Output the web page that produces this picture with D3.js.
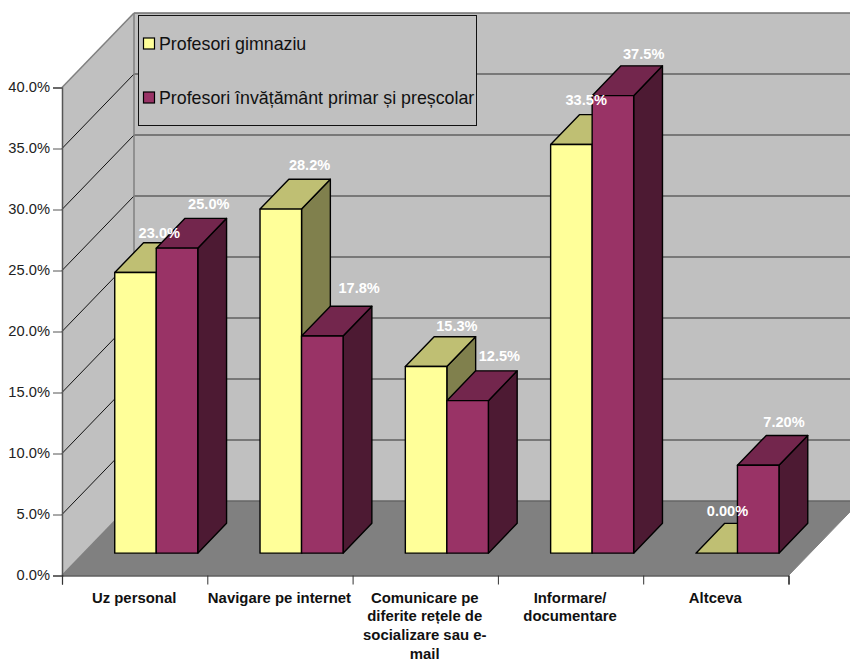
<!DOCTYPE html>
<html>
<head>
<meta charset="utf-8">
<script src="https://d3js.org/d3.v7.min.js"></script>
<style>
  body { margin: 0; background: #fff; }
  svg { display: block; }
  text { font-family: "Liberation Sans", Arial, sans-serif; }
</style>
</head>
<body>
<div id="my_dataviz"></div>
<script>

// chart data
var categories = ["Uz personal", "Navigare pe internet", "Comunicare pe\ndiferite rețele de\nsocializare sau e-\nmail", "Informare/\ndocumentare", "Altceva"]
var seriesNames = ["Profesori gimnaziu", "Profesori învățământ primar și preșcolar"]
var gimnaziu = [23.0, 28.2, 15.3, 33.5, 0]
var primar = [25.0, 17.8, 12.5, 37.5, 7.2]
var yTicks = [0, 5, 10, 15, 20, 25, 30, 35, 40]

// hand placed label nudges, [dx, dy] from the centre of each bar's back top edge
var gimnaziuNudge = [[-5, -10], [0, -14], [2, -11], [-14, -15], [-18, -12]]
var primarNudge = [[3, -14], [8, -18], [3, -15], [2, -12], [-3, -14]]

var width = 850, height = 661
var left = 62, right = 788.5, floorY = 575.5, topY = 87.5
var depthX = 72, depthY = -74.5

var colors = [
  { front: "#ffff99", top: "#bfbf73", side: "#80804d" },
  { front: "#993366", top: "#73264d", side: "#4d1a33" }
]

var svg = d3.select("#my_dataviz")
  .append("svg")
    .attr("width", width)
    .attr("height", height)

var y = d3.scaleLinear().domain([0, 40]).range([floorY, topY])
var x = d3.scaleBand().domain(d3.range(categories.length)).range([left, right])
// two bars side by side, with three quarters of a bar of room on each end
var xSeries = d3.scaleBand().domain([0, 1]).range([0, x.bandwidth()]).paddingInner(0).paddingOuter(0.75)

// screen position of a point at (px, value) and depth z, 0 = front and 1 = back wall
function pt(px, value, z) {
  return [px + z * depthX, y(value) + z * depthY]
}
function poly(points) {
  return points.map(function(p) { return p.join(",") }).join(" ")
}

// walls and floor
svg.append("polygon")
  .attr("points", poly([pt(left, 0, 1), pt(right, 0, 1), pt(right, 40, 1), pt(left, 40, 1)]))
  .attr("fill", "#c0c0c0")
svg.append("polygon")
  .attr("points", poly([pt(left, 0, 0), pt(left, 40, 0), pt(left, 40, 1), pt(left, 0, 1)]))
  .attr("fill", "#c0c0c0")
svg.append("polygon")
  .attr("points", poly([pt(left, 0, 0), pt(right, 0, 0), pt(right, 0, 1), pt(left, 0, 1)]))
  .attr("fill", "#808080")

// gridlines: diagonal on the left wall, level on the back wall
yTicks.slice(1).forEach(function(t) {
  var a = pt(left, t, 0), b = pt(left, t, 1), c = pt(right, t, 1)
  svg.append("line")
    .attr("x1", a[0]).attr("y1", a[1]).attr("x2", b[0]).attr("y2", b[1])
    .attr("stroke", t == 40 ? "#808080" : "#111").attr("stroke-width", t == 40 ? 1.5 : 1)
  svg.append("line")
    .attr("x1", b[0]).attr("y1", b[1]).attr("x2", c[0]).attr("y2", c[1])
    .attr("stroke", t == 40 ? "#707070" : "#606060").attr("stroke-width", 1.5)
})

// wall edges
var c1 = pt(left, 0, 1), c2 = pt(left, 40, 1), c0 = pt(left, 0, 0), c3 = pt(right, 0, 1), c4 = pt(right, 0, 0)
svg.append("line").attr("x1", c1[0]).attr("y1", c1[1]).attr("x2", c2[0]).attr("y2", c2[1])
  .attr("stroke", "#808080").attr("stroke-width", 1.5)
svg.append("line").attr("x1", c0[0]).attr("y1", c0[1]).attr("x2", c1[0]).attr("y2", c1[1])
  .attr("stroke", "#808080").attr("stroke-width", 1.5)
svg.append("line").attr("x1", c1[0]).attr("y1", c1[1]).attr("x2", c3[0]).attr("y2", c3[1])
  .attr("stroke", "#666").attr("stroke-width", 1.5)
svg.append("line").attr("x1", c4[0]).attr("y1", c4[1]).attr("x2", c3[0]).attr("y2", c3[1])
  .attr("stroke", "#808080").attr("stroke-width", 1)

// y axis
var yAxis = svg.append("g")
  .attr("transform", "translate(" + left + ",0)")
  .call(d3.axisLeft(y).tickValues(yTicks).tickSize(9).tickPadding(3)
    .tickFormat(function(d) { return d3.format(".1f")(d) + "%" }))
yAxis.select(".domain").attr("stroke", "#555").attr("stroke-width", 1.5)
yAxis.selectAll(".tick line").attr("stroke", "#555")
yAxis.selectAll("text").attr("fill", "#222").style("font-size", "14.7px")
  .style("font-family", "'Liberation Sans'").attr("transform", "translate(0,-0.5)")

// x axis, ticks sit on the category boundaries
var xEdges = d3.scaleLinear().domain([0, categories.length]).range([left, right])
var xAxis = svg.append("g")
  .attr("transform", "translate(0," + floorY + ")")
  .call(d3.axisBottom(xEdges).tickValues(d3.range(categories.length + 1)).tickSize(9).tickFormat(""))
xAxis.select(".domain").attr("stroke", "#111").attr("stroke-width", 1.2)
xAxis.selectAll(".tick line").attr("stroke", "#333")

// the wrapped category names
categories.forEach(function(name, i) {
  var label = svg.append("text")
    .attr("text-anchor", "middle")
    .attr("font-weight", "bold")
    .attr("font-size", "14.9px")
    .attr("fill", "#111")
  name.split("\n").forEach(function(line, k) {
    label.append("tspan")
      .attr("x", x(i) + x.bandwidth() / 2 - 0.5)
      .attr("y", 602.5 + k * 18.7)
      .text(line)
  })
})

// one 3D bar: side, top, then front
function drawBar(i, s, value) {
  var x0 = x(i) + xSeries(s), x1 = x0 + xSeries.bandwidth()
  var zf = 0.3, zb = 0.7
  var g = svg.append("g")
    .attr("stroke", "#000").attr("stroke-width", 1.4).attr("stroke-linejoin", "round")
  if (value > 0) {
    g.append("polygon")
      .attr("points", poly([pt(x1, 0, zf), pt(x1, 0, zb), pt(x1, value, zb), pt(x1, value, zf)]))
      .attr("fill", colors[s].side)
  }
  g.append("polygon")
    .attr("points", poly([pt(x0, value, zf), pt(x1, value, zf), pt(x1, value, zb), pt(x0, value, zb)]))
    .attr("fill", colors[s].top)
  if (value > 0) {
    g.append("polygon")
      .attr("points", poly([pt(x0, 0, zf), pt(x1, 0, zf), pt(x1, value, zf), pt(x0, value, zf)]))
      .attr("fill", colors[s].front)
  }
}

categories.forEach(function(name, i) {
  drawBar(i, 0, gimnaziu[i])
  drawBar(i, 1, primar[i])
})

// value labels go over all the bars
function drawLabels(values, nudges, s) {
  values.forEach(function(v, i) {
    var p = pt(x(i) + xSeries(s) + xSeries.bandwidth() / 2, v, 0.7)
    var digits = i == categories.length - 1 ? ".2f" : ".1f"
    svg.append("text")
      .attr("x", p[0] + nudges[i][0])
      .attr("y", p[1] + nudges[i][1])
      .attr("text-anchor", "middle")
      .attr("dominant-baseline", "central")
      .attr("font-weight", "bold")
      .attr("font-size", "14.6px")
      .attr("fill", "#fff")
      .text(d3.format(digits)(v) + "%")
  })
}
drawLabels(gimnaziu, gimnaziuNudge, 0)
drawLabels(primar, primarNudge, 1)

// legend
var legend = svg.append("g")
legend.append("rect")
  .attr("x", 138.5).attr("y", 15.5).attr("width", 338).attr("height", 110)
  .attr("fill", "#c0c0c0").attr("stroke", "#111").attr("stroke-width", 1)
seriesNames.forEach(function(name, s) {
  var rowY = 43.5 + s * 54
  legend.append("rect")
    .attr("x", 143.5).attr("y", rowY - 5.5).attr("width", 11).attr("height", 11)
    .attr("fill", colors[s].front).attr("stroke", "#000").attr("stroke-width", 1.2)
  legend.append("text")
    .attr("x", 159).attr("y", rowY + 6)
    .attr("font-size", "17.8px")
    .attr("fill", "#111")
    .text(name)
})

</script>
</body>
</html>
